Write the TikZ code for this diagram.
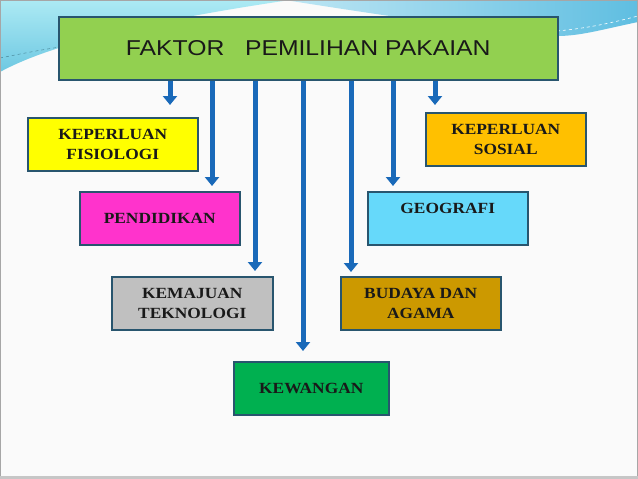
\documentclass[tikz,border=0pt]{standalone}
\usepackage{fontspec}
\usetikzlibrary{arrows.meta}
\newfontfamily\titlefont[FakeStretch=1.15]{Liberation Sans}
\newfontfamily\boxfont[FakeStretch=1.12]{Liberation Serif}
\definecolor{bgc}{RGB}{250,250,250}
\definecolor{ctitle}{RGB}{146,208,80}
\definecolor{cfis}{RGB}{255,255,0}
\definecolor{csos}{RGB}{255,192,0}
\definecolor{cpen}{RGB}{255,51,204}
\definecolor{cgeo}{RGB}{102,217,250}
\definecolor{ctek}{RGB}{192,192,192}
\definecolor{cbud}{RGB}{204,153,0}
\definecolor{cwang}{RGB}{0,176,80}
\definecolor{edgec}{RGB}{40,85,110}
\definecolor{arrc}{RGB}{25,105,185}
\definecolor{cyanA}{RGB}{172,234,244}
\definecolor{cyanB}{RGB}{110,200,226}
\definecolor{swA}{RGB}{190,230,244}
\definecolor{swB}{RGB}{95,190,225}
\begin{document}
\begin{tikzpicture}[x=1pt,y=-1pt,
  box/.style={draw=edgec, line width=1.5pt, minimum width=160pt, minimum height=53pt,
    anchor=north west, inner sep=0pt, align=center,
    font=\boxfont\bfseries\fontsize{15.5}{20.5}\selectfont, text=black!90},
  arr/.style={draw=arrc, line width=5pt, -{Triangle[width=14pt,length=9pt]}}]
\useasboundingbox (0,0) rectangle (638,479);
% background
\fill[bgc] (0,0) rectangle (638,479);
\shade[top color=cyanA, bottom color=cyanB] (0,0) -- (290,0)
  .. controls (120,25) and (40,50) .. (0,72) -- cycle;
\draw[cyanB!70!black, dashed, line width=0.5pt] (0,58) .. controls (20,54) and (40,50) .. (60,47);
\shade[left color=swA, right color=swB] (285,0) -- (638,0) -- (638,22)
  .. controls (600,30) and (580,36) .. (557,36)
  .. controls (480,30) and (380,15) .. (285,0) -- cycle;
\draw[white, dashed, line width=0.6pt] (557,31) .. controls (590,28) and (615,22) .. (638,16);
\draw[swB!80!black, line width=0.8pt] (0,0.5) -- (638,0.5);
\draw[gray!70, line width=1pt] (0.5,0.5) rectangle (637.5,478.5);
\fill[gray!45] (0,476) rectangle (638,479);
% boxes
\node[box, fill=ctitle, minimum width=499pt, minimum height=63pt,
  font=\titlefont\fontsize{21.5}{24}\selectfont] (title) at (58,16) {FAKTOR\ \ \ PEMILIHAN PAKAIAN};
\node[box, fill=cfis, minimum width=170pt] (fis) at (27,117) {KEPERLUAN\\FISIOLOGI};
\node[box, fill=csos] (sos) at (425,112) {KEPERLUAN\\SOSIAL};
\node[box, fill=cpen] (pen) at (79,191) {PENDIDIKAN};
\node[box, fill=cgeo] (geo) at (367,191) {GEOGRAFI\\\mbox{}};
\node[box, fill=ctek, minimum width=161pt] (tek) at (111,276) {KEMAJUAN\\TEKNOLOGI};
\node[box, fill=cbud] (bud) at (340,276) {BUDAYA DAN\\AGAMA};
\node[box, fill=cwang, minimum width=155pt] (wang) at (233,361) {KEWANGAN};
% arrows
\coordinate (ax1) at (170,0);
\coordinate (ax2) at (212,0);
\coordinate (ax3) at (255,0);
\coordinate (ax4) at (303,0);
\coordinate (ax5) at (351,0);
\coordinate (ax6) at (393,0);
\coordinate (ax7) at (435,0);
\draw[arr, shorten >=12pt] (title.south -| ax1) -- (fis.north -| ax1);
\draw[arr, shorten >=5pt] (title.south -| ax2) -- (pen.north -| ax2);
\draw[arr, shorten >=5pt] (title.south -| ax3) -- (tek.north -| ax3);
\draw[arr, shorten >=10pt] (title.south -| ax4) -- (wang.north -| ax4);
\draw[arr, shorten >=4pt] (title.south -| ax5) -- (bud.north -| ax5);
\draw[arr, shorten >=5pt] (title.south -| ax6) -- (geo.north -| ax6);
\draw[arr, shorten >=7pt] (title.south -| ax7) -- (sos.north -| ax7);
\end{tikzpicture}
\end{document}
